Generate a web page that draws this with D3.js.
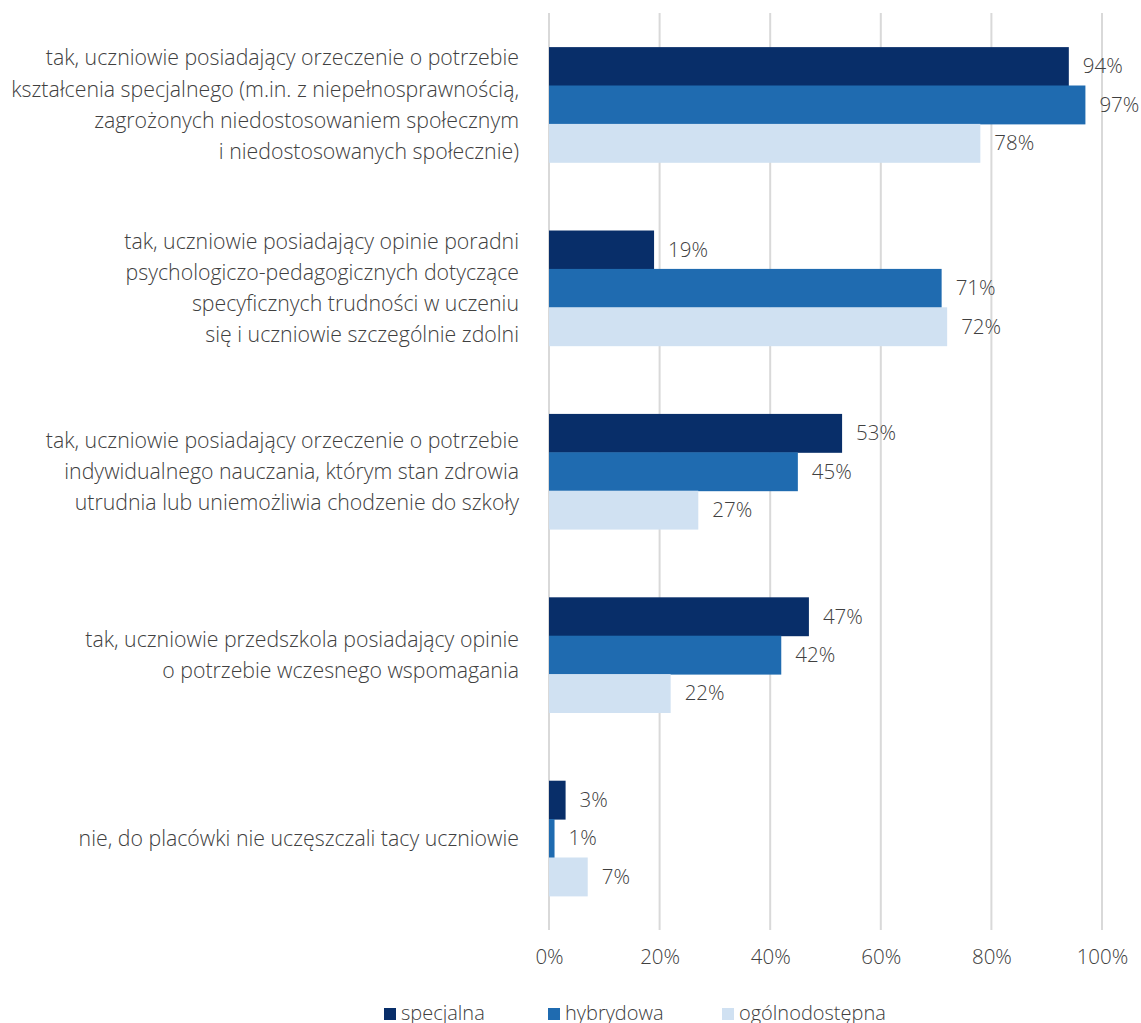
<!DOCTYPE html>
<html><head><meta charset="utf-8">
<script src="https://cdn.jsdelivr.net/npm/d3@7"></script>
<style>
html,body{margin:0;padding:0;background:#fff;}
svg text{font-family:"Open Sans",sans-serif;fill:#404040;font-weight:300;}
</style></head>
<body><svg id="c" width="1141" height="1023"></svg>
<script>
const categories = [
  ["tak, uczniowie posiadający orzeczenie o potrzebie","kształcenia specjalnego (m.in. z niepełnosprawnością,","zagrożonych niedostosowaniem społecznym","i niedostosowanych społecznie)"],
  ["tak, uczniowie posiadający opinie poradni","psychologiczo-pedagogicznych dotyczące","specyficznych trudności w uczeniu","się i uczniowie szczególnie zdolni"],
  ["tak, uczniowie posiadający orzeczenie o potrzebie","indywidualnego nauczania, którym stan zdrowia","utrudnia lub uniemożliwia chodzenie do szkoły"],
  ["tak, uczniowie przedszkola posiadający opinie","o potrzebie wczesnego wspomagania"],
  ["nie, do placówki nie uczęszczali tacy uczniowie"]
];
const seriesNames = ["specjalna","hybrydowa","ogólnodostępna"];
const specjalna = [94,19,53,47,3];
const hybrydowa = [97,71,45,42,1];
const ogolnodostepna = [78,72,27,22,7];
const tickValues = [0,20,40,60,80,100];
const colors = ["#082e69","#1f6bb0","#d0e1f2"];

const series = [specjalna, hybrydowa, ogolnodostepna];
const svg = d3.select("#c");
const x = d3.scaleLinear().domain([0,100]).range([549,1102]);
const y0 = d3.scaleBand().domain(d3.range(categories.length)).range([13,930]).paddingInner(0.372).paddingOuter(0.186);
const y1 = d3.scaleBand().domain(d3.range(series.length)).range([0,y0.bandwidth()]);

// gridlines
svg.append("g").selectAll("line").data(tickValues).join("line")
  .attr("x1",d=>x(d)).attr("x2",d=>x(d)).attr("y1",13).attr("y2",930)
  .attr("stroke","#d9d9d9").attr("stroke-width",2);

// axis tick labels
const axis = d3.axisBottom(x).tickValues(tickValues).tickSize(0).tickPadding(0).tickFormat(d=>d+"%");
const ag = svg.append("g").attr("transform","translate(0,949)").call(axis);
ag.select(".domain").remove();
ag.selectAll("text").attr("font-size",20.5).attr("dy","0.71em").style("font-family","Open Sans").style("font-weight",300).style("fill","#404040");

// bars
const groups = svg.append("g").selectAll("g").data(categories).join("g")
  .attr("transform",(d,i)=>`translate(0,${y0(i)})`);
groups.each(function(_,i){
  const g = d3.select(this);
  series.forEach((s,j)=>{
    g.append("rect").attr("x",x(0)).attr("y",y1(j))
      .attr("width",x(s[i])-x(0)).attr("height",y1.bandwidth()+0.5).attr("fill",colors[j]);
    g.append("text").attr("x",x(s[i])+14).attr("y",y1(j)+y1.bandwidth()/2)
      .attr("dy","0.35em").attr("font-size",20.5).text(s[i]+"%");
  });
  // category label
  const lines = categories[i];
  const lh = 31.3;
  const cy = y0.bandwidth()/2;
  const t = g.append("text").attr("text-anchor","end").attr("font-size",21.3);
  lines.forEach((l,k)=>{
    t.append("tspan").attr("x",519).attr("y",cy + (k-(lines.length-1)/2)*lh).attr("dy","0.35em").text(l);
  });
});

// legend
const legX = [384,548,722];
const lg = svg.append("g").selectAll("g").data(seriesNames).join("g")
  .attr("transform",(d,i)=>`translate(${legX[i]},1008)`);
lg.append("rect").attr("width",12).attr("height",12).attr("fill",(d,i)=>colors[i]);
lg.append("text").attr("x",17).attr("y",5).attr("dy","0.35em").attr("font-size",20).text(d=>d);
</script></body></html>
